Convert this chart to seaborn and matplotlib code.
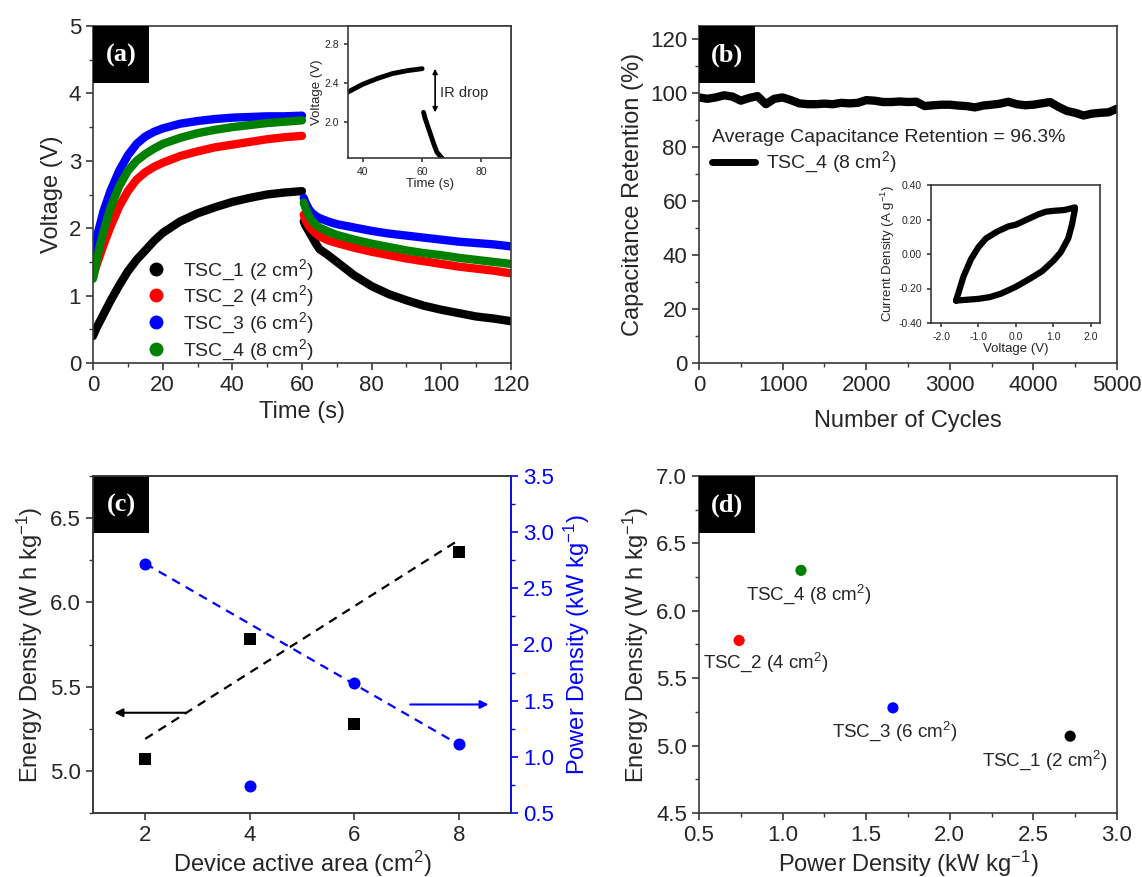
import numpy as np
import pandas as pd
import matplotlib
matplotlib.use("Agg")
import matplotlib.pyplot as plt
import seaborn as sns
from matplotlib.lines import Line2D
from matplotlib.patches import Rectangle
from matplotlib.ticker import MultipleLocator, FormatStrFormatter

# ---------------- data ----------------
devices = ["TSC_1 (2 cm$^2$)", "TSC_2 (4 cm$^2$)", "TSC_3 (6 cm$^2$)", "TSC_4 (8 cm$^2$)"]
device_colors = ["#000000", "#FF0000", "#0000FF", "#008000"]
areas = [2, 4, 6, 8]

# (a) galvanostatic charge / discharge
t_charge = [0, 1, 2, 3, 5, 7.5, 10, 12.5, 15, 17.5, 20, 25, 30, 35, 40, 45, 50, 55, 60]
t_discharge = [60.5, 61, 62, 63, 64, 65, 67.5, 70, 75, 80, 85, 90, 95, 100, 105, 110, 115, 120]
v_charge_1 = [0.40, 0.52, 0.62, 0.72, 0.92, 1.15, 1.36, 1.53, 1.67, 1.81, 1.93, 2.10, 2.22, 2.31, 2.39, 2.45, 2.50, 2.53, 2.55]
v_charge_2 = [1.28, 1.45, 1.60, 1.75, 2.02, 2.32, 2.55, 2.72, 2.83, 2.91, 2.97, 3.07, 3.14, 3.20, 3.24, 3.28, 3.32, 3.35, 3.37]
v_charge_3 = [1.65, 1.85, 2.05, 2.25, 2.55, 2.85, 3.08, 3.25, 3.36, 3.43, 3.48, 3.55, 3.59, 3.62, 3.64, 3.65, 3.66, 3.66, 3.67]
v_charge_4 = [1.25, 1.50, 1.75, 1.95, 2.30, 2.62, 2.85, 3.00, 3.10, 3.18, 3.25, 3.34, 3.41, 3.46, 3.50, 3.53, 3.56, 3.58, 3.60]
v_discharge_1 = [2.10, 2.04, 1.95, 1.86, 1.77, 1.69, 1.60, 1.50, 1.30, 1.14, 1.02, 0.93, 0.85, 0.79, 0.74, 0.69, 0.66, 0.62]
v_discharge_2 = [2.20, 2.12, 2.03, 1.97, 1.92, 1.88, 1.82, 1.78, 1.71, 1.65, 1.60, 1.55, 1.51, 1.47, 1.43, 1.40, 1.37, 1.33]
v_discharge_3 = [2.45, 2.38, 2.28, 2.22, 2.18, 2.15, 2.10, 2.06, 2.01, 1.96, 1.92, 1.89, 1.86, 1.83, 1.80, 1.78, 1.76, 1.73]
v_discharge_4 = [2.38, 2.30, 2.18, 2.10, 2.05, 2.01, 1.95, 1.90, 1.83, 1.77, 1.72, 1.67, 1.63, 1.60, 1.56, 1.53, 1.50, 1.47]

# (b) cycling stability
cycles = list(range(0, 5001, 100))
retention = [98.5, 98.0, 98.5, 99.3, 98.8, 97.3, 98.3, 99.0, 96.0, 98.0,
             98.5, 97.5, 96.3, 96.0, 96.0, 96.2, 96.0, 96.5, 96.3, 96.5,
             97.5, 97.3, 96.8, 96.8, 97.0, 96.8, 96.9, 95.3, 95.6, 95.8,
             95.8, 95.5, 95.3, 94.8, 95.5, 95.8, 96.2, 96.9, 96.0, 95.6,
             95.8, 96.3, 96.8, 95.0, 93.5, 92.8, 91.8, 92.5, 92.8, 93.0, 94.3]
avg_retention_text = "Average Capacitance Retention = 96.3%"

# (b) inset: cyclic voltammogram
cv_voltage = [-1.6, -1.5, -1.4, -1.2, -1.0, -0.8, -0.5, -0.2, 0.0, 0.3, 0.6, 0.8, 1.0, 1.3, 1.58,
              1.58, 1.5, 1.4, 1.2, 1.0, 0.7, 0.4, 0.0, -0.4, -0.7, -1.0, -1.3, -1.6]
cv_current = [-0.27, -0.20, -0.13, -0.03, 0.04, 0.09, 0.13, 0.16, 0.17, 0.20, 0.23, 0.245, 0.25, 0.255, 0.27,
              0.26, 0.17, 0.09, 0.01, -0.04, -0.10, -0.14, -0.19, -0.23, -0.25, -0.26, -0.265, -0.27]

# (c)/(d) energy and power density
energy = [5.07, 5.78, 5.28, 6.30]
power = [2.72, 0.74, 1.66, 1.11]
fit_x = [2, 8]
energy_fit = [5.19, 6.37]
power_fit = [2.72, 1.11]

# ---------------- style ----------------
sns.set_style("ticks")
plt.rcParams['font.family'] = ['Liberation Sans', 'DejaVu Sans']
plt.rcParams['mathtext.default'] = 'regular'
plt.rcParams['axes.linewidth'] = 1.2
plt.rcParams['axes.edgecolor'] = '#3a3a3a'
plt.rcParams['xtick.direction'] = 'out'
plt.rcParams['ytick.direction'] = 'out'

TICK = 16
LAB = 17

fig = plt.figure(figsize=(11.42, 8.77), dpi=100)
W, H = 1142, 877


def px_axes(l, t, r, b):
    return fig.add_axes([l / W, 1 - b / H, (r - l) / W, (b - t) / H])


def style(ax, size=TICK, major=5, minor=3):
    ax.tick_params(which='major', length=major, width=1.2, labelsize=size, color='#3a3a3a')
    ax.tick_params(which='minor', length=minor, width=1.0, color='#3a3a3a')
    for s in ax.spines.values():
        s.set_visible(True)


def panel_tag(ax, s):
    ax.add_patch(Rectangle((0, 1 - 57 / 337), 56 / 418, 57 / 337, transform=ax.transAxes,
                           facecolor='black', edgecolor='none', zorder=5, clip_on=False))
    ax.text(28 / 418, 1 - 29 / 337, s, transform=ax.transAxes, color='white', fontsize=19,
            fontweight='bold', family='Liberation Serif', ha='center', va='center', zorder=6)


axA = px_axes(93, 26, 511, 363)
axB = px_axes(699, 26, 1117, 363)
axC = px_axes(93, 476, 511, 813)
axD = px_axes(699, 476, 1117, 813)

# ---------------- (a) ----------------
rows = []
charges = [v_charge_1, v_charge_2, v_charge_3, v_charge_4]
discharges = [v_discharge_1, v_discharge_2, v_discharge_3, v_discharge_4]
for name, vc, vd in zip(devices, charges, discharges):
    for t, v in zip(t_charge, vc):
        rows.append((name, 'charge', t, v))
    for t, v in zip(t_discharge, vd):
        rows.append((name, 'discharge', t, v))
dfA = pd.DataFrame(rows, columns=['device', 'phase', 'time', 'voltage'])
palette = dict(zip(devices, device_colors))
sns.lineplot(data=dfA, x='time', y='voltage', hue='device', units='phase', estimator=None,
             palette=palette, hue_order=devices, lw=6, solid_capstyle='round',
             solid_joinstyle='round', sort=False, legend=False, ax=axA)
axA.set_xlim(0, 120)
axA.set_ylim(0, 5)
axA.xaxis.set_major_locator(MultipleLocator(20))
axA.xaxis.set_minor_locator(MultipleLocator(10))
axA.yaxis.set_major_locator(MultipleLocator(1))
axA.yaxis.set_minor_locator(MultipleLocator(0.5))
axA.set_xlabel("Time (s)", fontsize=LAB)
axA.set_ylabel("Voltage (V)", fontsize=LAB)
style(axA)
handles = [Line2D([], [], ls='none', marker='o', ms=9, color=c) for c in device_colors]
axA.legend(handles, devices, loc='lower left', bbox_to_anchor=(0.127, 0.0), frameon=False,
           fontsize=14, handlelength=1.0, handletextpad=0.9, labelspacing=0.08,
           borderpad=0, borderaxespad=0)
panel_tag(axA, "(a)")

# inset (a)
insA = px_axes(348, 26, 511, 158)
dfA1 = dfA[dfA['device'] == devices[0]]
sns.lineplot(data=dfA1, x='time', y='voltage', units='phase', estimator=None, color='black',
             lw=3.5, solid_capstyle='round', sort=False, ax=insA)
insA.set_xlim(35, 90)
insA.set_ylim(1.63, 2.99)
insA.set_xticks([40, 60, 80])
insA.set_yticks([2.0, 2.4, 2.8])
insA.yaxis.set_major_formatter(FormatStrFormatter('%.1f'))
insA.set_xlabel("Time (s)", fontsize=9.5, labelpad=1)
insA.set_ylabel("Voltage (V)", fontsize=9.5, labelpad=1)
style(insA, size=7.5, major=3)
insA.annotate('', xy=(64.4, v_discharge_1[0]), xytext=(64.4, v_charge_1[-1]),
              arrowprops=dict(arrowstyle='<|-|>', lw=1.2, color='black', mutation_scale=7,
                              shrinkA=0, shrinkB=0))
insA.text(66, 2.30, "IR drop", fontsize=10.5, va='center', ha='left')

# ---------------- (b) ----------------
dfB = pd.DataFrame({'cycles': cycles, 'retention': retention})
sns.lineplot(data=dfB, x='cycles', y='retention', color='black', lw=6, ax=axB, legend=False)
axB.set_xlim(0, 5000)
axB.set_ylim(0, 125)
axB.xaxis.set_major_locator(MultipleLocator(1000))
axB.xaxis.set_minor_locator(MultipleLocator(500))
axB.yaxis.set_major_locator(MultipleLocator(20))
axB.yaxis.set_minor_locator(MultipleLocator(10))
axB.set_xlabel("Number of Cycles", fontsize=LAB, labelpad=10)
axB.set_ylabel("Capacitance Retention (%)", fontsize=LAB)
style(axB)
axB.text(0.031, 0.668, avg_retention_text, transform=axB.transAxes, fontsize=14,
         ha='left', va='center')
axB.legend([Line2D([], [], color='black', lw=5)], [devices[3]], loc='center left',
           bbox_to_anchor=(0.031, 0.594), frameon=False, fontsize=14, handlelength=2.2,
           handletextpad=0.6, borderpad=0, borderaxespad=0)
panel_tag(axB, "(b)")

# inset (b)
insB = px_axes(931, 185, 1100, 323)
dfCV = pd.DataFrame({'V': cv_voltage, 'I': cv_current})
sns.lineplot(data=dfCV, x='V', y='I', sort=False, estimator=None, color='black', lw=4.5,
             solid_joinstyle='round', ax=insB)
insB.set_xlim(-2.27, 2.25)
insB.set_ylim(-0.40, 0.40)
insB.set_xticks([-2.0, -1.0, 0.0, 1.0, 2.0])
insB.set_yticks([-0.40, -0.20, 0.00, 0.20, 0.40])
insB.xaxis.set_major_formatter(FormatStrFormatter('%.1f'))
insB.yaxis.set_major_formatter(FormatStrFormatter('%.2f'))
insB.set_xlabel("Voltage (V)", fontsize=9.5, labelpad=1)
insB.set_ylabel("Current Density (A g$^{-1}$)", fontsize=9.5, labelpad=1)
style(insB, size=7.5, major=3)

# ---------------- (c) ----------------
sns.lineplot(x=fit_x, y=energy_fit, color='black', lw=1.6, ax=axC)
axC.lines[-1].set_dashes([4, 3])
sns.scatterplot(x=areas, y=energy, marker='s', color='black', s=65, linewidth=0, ax=axC,
                zorder=3)
axC.set_xlim(1, 9)
axC.set_ylim(4.75, 6.75)
axC.set_xticks([2, 4, 6, 8])
axC.yaxis.set_major_locator(MultipleLocator(0.5))
axC.yaxis.set_minor_locator(MultipleLocator(0.25))
axC.yaxis.set_major_formatter(FormatStrFormatter('%.1f'))
axC.set_xlabel("Device active area (cm$^2$)", fontsize=LAB, labelpad=2)
axC.set_ylabel("Energy Density (W h kg$^{-1}$)", fontsize=LAB)
style(axC)
axC.annotate('', xy=(1.41, 5.345), xytext=(2.77, 5.345),
             arrowprops=dict(arrowstyle='-|>', lw=1.5, color='black', mutation_scale=12,
                             shrinkA=0, shrinkB=0))

axC2 = axC.twinx()
sns.lineplot(x=fit_x, y=power_fit, color='#0000FF', lw=1.6, ax=axC2)
axC2.lines[-1].set_dashes([4, 3])
sns.scatterplot(x=areas, y=power, marker='o', color='#0000FF', s=75, linewidth=0, ax=axC2,
                zorder=3)
axC2.set_ylim(0.5, 3.5)
axC2.yaxis.set_major_locator(MultipleLocator(0.5))
axC2.yaxis.set_minor_locator(MultipleLocator(0.25))
axC2.yaxis.set_major_formatter(FormatStrFormatter('%.1f'))
axC2.set_ylabel("Power Density (kW kg$^{-1}$)", fontsize=LAB, color='#0000FF', labelpad=6)
style(axC2)
axC2.tick_params(axis='y', which='both', colors='#0000FF', labelcolor='#0000FF')
axC2.spines['right'].set_color('#0000FF')
axC2.annotate('', xy=(8.57, 1.466), xytext=(7.07, 1.466),
              arrowprops=dict(arrowstyle='-|>', lw=1.5, color='#0000FF', mutation_scale=12,
                              shrinkA=0, shrinkB=0))
panel_tag(axC, "(c)")

# ---------------- (d) ----------------
dfD = pd.DataFrame({'power': power, 'energy': energy, 'device': devices})
sns.scatterplot(data=dfD, x='power', y='energy', hue='device', palette=palette,
                hue_order=devices, s=65, linewidth=0, legend=False, ax=axD, zorder=3)
label_offsets = [(-25, -24), (27, -22), (2, -23), (8, -24)]
for p, e, name, off in zip(power, energy, devices, label_offsets):
    axD.annotate(name, xy=(p, e), xytext=off, textcoords='offset pixels', ha='center',
                 va='center', fontsize=13.5)
axD.set_xlim(0.5, 3.0)
axD.set_ylim(4.5, 7.0)
axD.xaxis.set_major_locator(MultipleLocator(0.5))
axD.xaxis.set_minor_locator(MultipleLocator(0.25))
axD.yaxis.set_major_locator(MultipleLocator(0.5))
axD.yaxis.set_minor_locator(MultipleLocator(0.25))
axD.xaxis.set_major_formatter(FormatStrFormatter('%.1f'))
axD.yaxis.set_major_formatter(FormatStrFormatter('%.1f'))
axD.set_xlabel("Power Density (kW kg$^{-1}$)", fontsize=LAB, labelpad=2)
axD.set_ylabel("Energy Density (W h kg$^{-1}$)", fontsize=LAB)
style(axD)
panel_tag(axD, "(d)")

fig.savefig("out.png", dpi=100)
